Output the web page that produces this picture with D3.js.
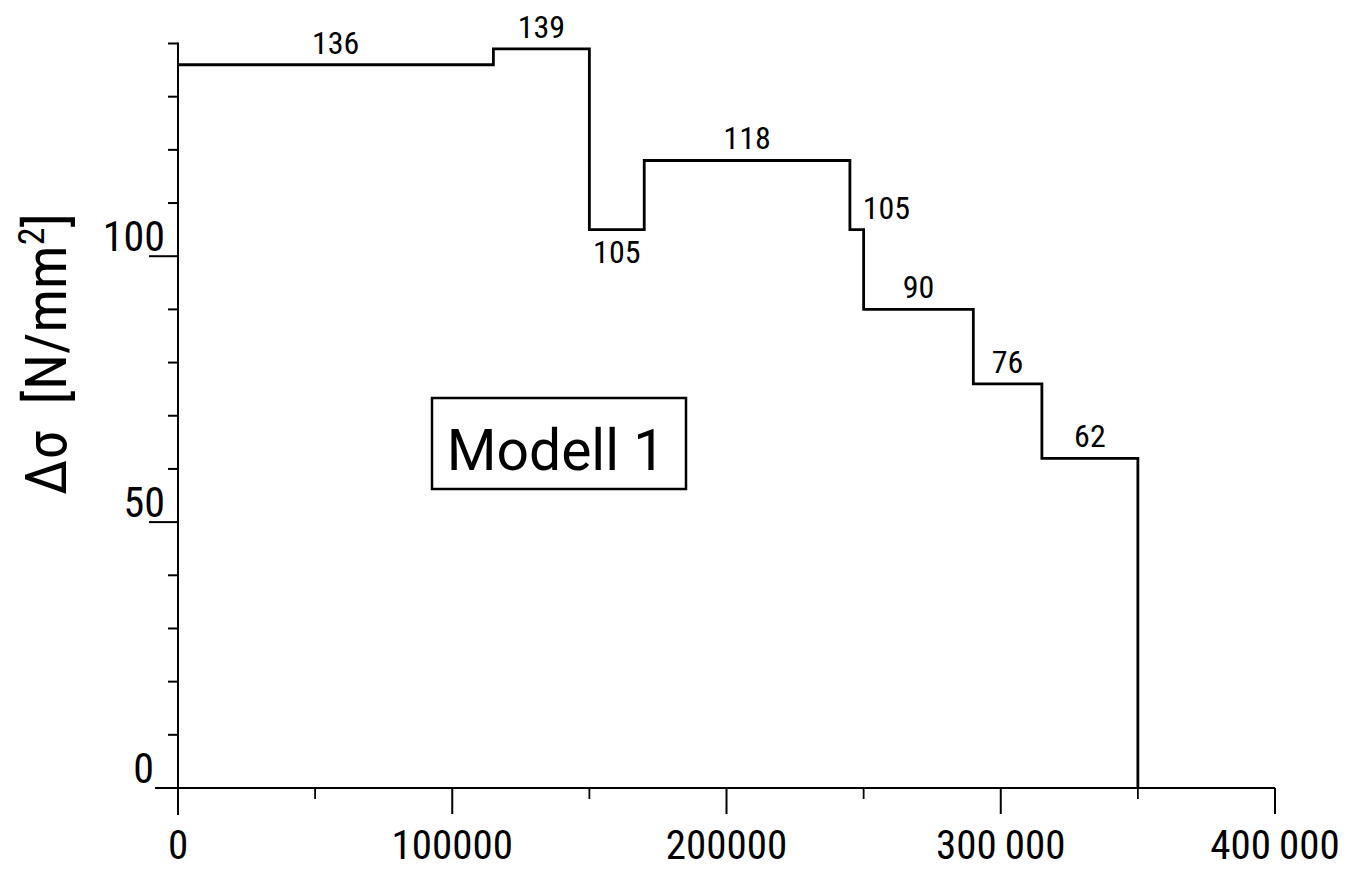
<!DOCTYPE html>
<html>
<head>
<meta charset="utf-8">
<script src="https://cdn.jsdelivr.net/npm/d3@7"></script>
<style>
  body { margin: 0; background: #fff; }
  svg { display: block; }
  text { fill: #000; }
</style>
</head>
<body>
<svg id="chart"></svg>
<script>
const WIDTH = 1362;
const HEIGHT = 870;

// load blocks: start / end (load cycles) and stress range
const stepStart = [0, 115000, 150000, 170000, 245000, 250000, 290000, 315000];
const stepEnd = [115000, 150000, 170000, 245000, 250000, 290000, 315000, 350000];
const stepValue = [136, 139, 105, 118, 105, 90, 76, 62];
const labelPlace = ["above", "above", "below", "above", "right", "above", "above", "above"];

const xTickValues = [0, 100000, 200000, 300000, 400000];
const xTickLabels = ["0", "100000", "200000", "300\u2009000", "400\u2009000"];
const xMinorTicks = [50000, 150000, 250000, 350000];
const yTickValues = [0, 50, 100];
const yTickLabels = ["0", "50", "100"];
const yMinorTicks = [10, 20, 30, 40, 60, 70, 80, 90, 110, 120, 130, 140];

const boxLabel = "Modell 1";

const FONT = "'Liberation Sans Narrow', 'Roboto Condensed', 'DejaVu Sans Condensed', sans-serif";

const x = d3.scaleLinear().domain([0, 400000]).range([178, 1275]);
const y = d3.scaleLinear().domain([0, 140]).range([788, 43.5]);

const svg = d3.select("#chart").attr("width", WIDTH).attr("height", HEIGHT);

// axes lines
svg.append("line")
    .attr("x1", x(0)).attr("x2", x(0))
    .attr("y1", y(140) - 1).attr("y2", y(0) + 27)
    .attr("stroke", "#000").attr("stroke-width", 2);
svg.append("line")
    .attr("x1", x(0) - 23).attr("x2", x(400000))
    .attr("y1", y(0)).attr("y2", y(0))
    .attr("stroke", "#000").attr("stroke-width", 2);

// x ticks
svg.selectAll(".xmaj").data(xTickValues.slice(1)).enter().append("line")
    .attr("x1", d => x(d)).attr("x2", d => x(d))
    .attr("y1", y(0)).attr("y2", y(0) + 26)
    .attr("stroke", "#000").attr("stroke-width", 2);
svg.selectAll(".xmin").data(xMinorTicks).enter().append("line")
    .attr("x1", d => x(d)).attr("x2", d => x(d))
    .attr("y1", y(0)).attr("y2", y(0) + 11)
    .attr("stroke", "#000").attr("stroke-width", 1.8);
svg.selectAll(".xlab").data(xTickValues).enter().append("text")
    .attr("x", d => x(d)).attr("y", 859)
    .attr("text-anchor", "middle")
    .style("font-family", FONT).style("font-size", "41px")
    .text((d, i) => xTickLabels[i]);

// y ticks
svg.selectAll(".ymaj").data(yTickValues.slice(1)).enter().append("line")
    .attr("x1", x(0) - 29).attr("x2", x(0))
    .attr("y1", d => y(d)).attr("y2", d => y(d))
    .attr("stroke", "#000").attr("stroke-width", 2);
svg.selectAll(".ymin").data(yMinorTicks).enter().append("line")
    .attr("x1", x(0) - 10).attr("x2", x(0))
    .attr("y1", d => y(d)).attr("y2", d => y(d))
    .attr("stroke", "#000").attr("stroke-width", 2);
svg.selectAll(".ylab").data(yTickValues).enter().append("text")
    .attr("x", d => d === 0 ? 154 : 165)
    .attr("y", d => y(d) - 5)
    .attr("text-anchor", "end")
    .style("font-family", FONT).style("font-size", "42px")
    .text((d, i) => yTickLabels[i]);

// y axis title
const yTitle = svg.append("text")
    .attr("transform", "translate(66,354) rotate(-90)")
    .attr("text-anchor", "middle")
    .style("font-family", FONT).style("font-size", "58px");
yTitle.append("tspan").text("\u0394\u03c3\u2002[N/mm");
yTitle.append("tspan").attr("dy", -22).style("font-size", "36px").text("2");
yTitle.append("tspan").attr("dy", 22).text("]");

// step line
const pts = [];
stepValue.forEach((v, i) => {
    pts.push([stepStart[i], v]);
    pts.push([stepEnd[i], v]);
});
pts.push([stepEnd[stepEnd.length - 1], 0]);

const line = d3.line().x(d => x(d[0])).y(d => y(d[1]));
svg.append("path")
    .attr("d", line(pts))
    .attr("fill", "none")
    .attr("stroke", "#000")
    .attr("stroke-width", 2.8)
    .attr("stroke-linejoin", "miter");

// value labels
svg.selectAll(".vlab").data(stepValue).enter().append("text")
    .attr("x", (d, i) => labelPlace[i] === "right" ? x(stepEnd[i]) - 1 : (x(stepStart[i]) + x(stepEnd[i])) / 2)
    .attr("y", (d, i) => labelPlace[i] === "below" ? y(d) + 33 : y(d) - 11)
    .attr("text-anchor", (d, i) => labelPlace[i] === "right" ? "start" : "middle")
    .style("font-family", FONT).style("font-size", "32px")
    .text(d => d);

// model box
svg.append("rect")
    .attr("x", 432).attr("y", 398)
    .attr("width", 254).attr("height", 91)
    .attr("fill", "none").attr("stroke", "#000").attr("stroke-width", 2.5);
svg.append("text")
    .attr("x", 556).attr("y", 470)
    .attr("text-anchor", "middle")
    .style("font-family", "Roboto, sans-serif").style("font-size", "57px")
    .text(boxLabel);
</script>
</body>
</html>
